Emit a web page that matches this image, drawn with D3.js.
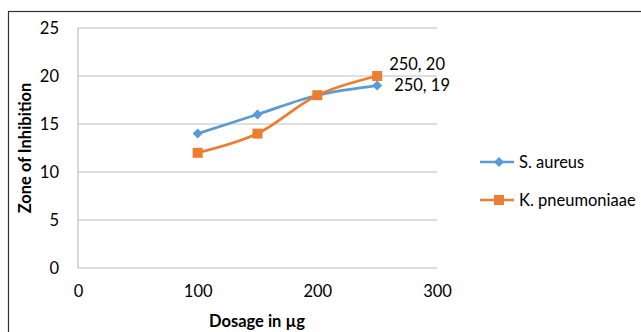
<!DOCTYPE html>
<html><head><meta charset="utf-8">
<script src="https://cdn.jsdelivr.net/npm/d3@7"></script>
<style>body{margin:0;background:#fff}svg{display:block}text{font-family:Lato,"Open Sans",sans-serif;fill:#000}</style>
</head><body>
<script>
const dosage = [100, 150, 200, 250];
const sAureus = [14, 16, 18, 19];
const kPneumoniaae = [12, 14, 18, 20];
const xTicks = [0, 100, 200, 300];
const yTicks = [0, 5, 10, 15, 20, 25];
const seriesNames = ["S. aureus", "K. pneumoniaae"];

const W = 641, H = 332;
const FS = 16.5;
const svg = d3.select("body").append("svg").attr("width", W).attr("height", H);
svg.append("rect").attr("x", 8.5).attr("y", 11.5).attr("width", 700).attr("height", 400)
  .attr("fill", "#fff").attr("stroke", "#333").attr("stroke-width", 1.2);

const x = d3.scaleLinear().domain([0, 300]).range([78, 437]);
const y = d3.scaleLinear().domain([0, 25]).range([268, 28]);

svg.append("g").selectAll("line").data(yTicks).join("line")
  .attr("x1", x(0)).attr("x2", x(300)).attr("y1", d => y(d)).attr("y2", d => y(d))
  .attr("stroke", "#bfbfbf").attr("stroke-width", 1.2);
svg.append("line").attr("x1", x(0)).attr("x2", x(0)).attr("y1", y(0)).attr("y2", y(25))
  .attr("stroke", "#bfbfbf").attr("stroke-width", 1.2);

const yAxis = d3.axisLeft(y).tickValues(yTicks).tickSize(0).tickPadding(19);
const gy = svg.append("g").attr("transform", `translate(${x(0)},0)`).call(yAxis);
gy.select(".domain").remove();
gy.selectAll("text").attr("font-size", FS).style("font-family", "Lato,sans-serif");

const xAxis = d3.axisBottom(x).tickValues(xTicks).tickSize(0).tickPadding(17);
const gx = svg.append("g").attr("transform", `translate(0,${y(0)})`).call(xAxis);
gx.select(".domain").remove();
gx.selectAll("text").attr("font-size", FS).style("font-family", "Lato,sans-serif");

svg.append("text").attr("x", 257).attr("y", 327).attr("text-anchor", "middle")
  .attr("font-size", FS).attr("font-weight", "bold").text("Dosage in µg");
svg.append("text").attr("transform", "translate(31,148) rotate(-90)").attr("text-anchor", "middle")
  .attr("font-size", FS).attr("font-weight", "bold").text("Zone of Inhibition");

const colors = ["#5B9BD5", "#ED7D31"];
const data = [sAureus, kPneumoniaae];
const line = d3.line().x((d, i) => x(dosage[i])).y(d => y(d)).curve(d3.curveCatmullRom.alpha(0.5));

data.forEach((s, k) => {
  svg.append("path").attr("d", line(s)).attr("fill", "none").attr("stroke", colors[k]).attr("stroke-width", 2.7);
});
const diamond = d3.symbol().type(d3.symbolDiamond2).size(64);
svg.append("g").selectAll("path").data(sAureus).join("path")
  .attr("d", diamond).attr("transform", (d, i) => `translate(${x(dosage[i])},${y(d)})`).attr("fill", colors[0]);
svg.append("g").selectAll("rect").data(kPneumoniaae).join("rect")
  .attr("x", (d, i) => x(dosage[i]) - 5).attr("y", d => y(d) - 5).attr("width", 10).attr("height", 10).attr("fill", colors[1]);

const last = dosage.length - 1;
svg.append("text").attr("x", x(dosage[last]) + 12).attr("y", y(kPneumoniaae[last]) - 6)
  .attr("font-size", FS).text(`${dosage[last]}, ${kPneumoniaae[last]}`);
svg.append("text").attr("x", x(dosage[last]) + 17).attr("y", y(sAureus[last]) + 5)
  .attr("font-size", FS).text(`${dosage[last]}, ${sAureus[last]}`);

const ly = [162, 200];
seriesNames.forEach((n, k) => {
  const g = svg.append("g");
  g.append("line").attr("x1", 480).attr("x2", 514).attr("y1", ly[k]).attr("y2", ly[k]).attr("stroke", colors[k]).attr("stroke-width", 2.7);
  if (k === 0) g.append("path").attr("d", diamond).attr("transform", `translate(499,${ly[k]})`).attr("fill", colors[0]);
  else g.append("rect").attr("x", 494).attr("y", ly[k] - 5).attr("width", 10).attr("height", 10).attr("fill", colors[1]);
  g.append("text").attr("x", 519).attr("y", ly[k] + 5.5).attr("font-size", FS).text(n);
});
</script>
</body></html>
